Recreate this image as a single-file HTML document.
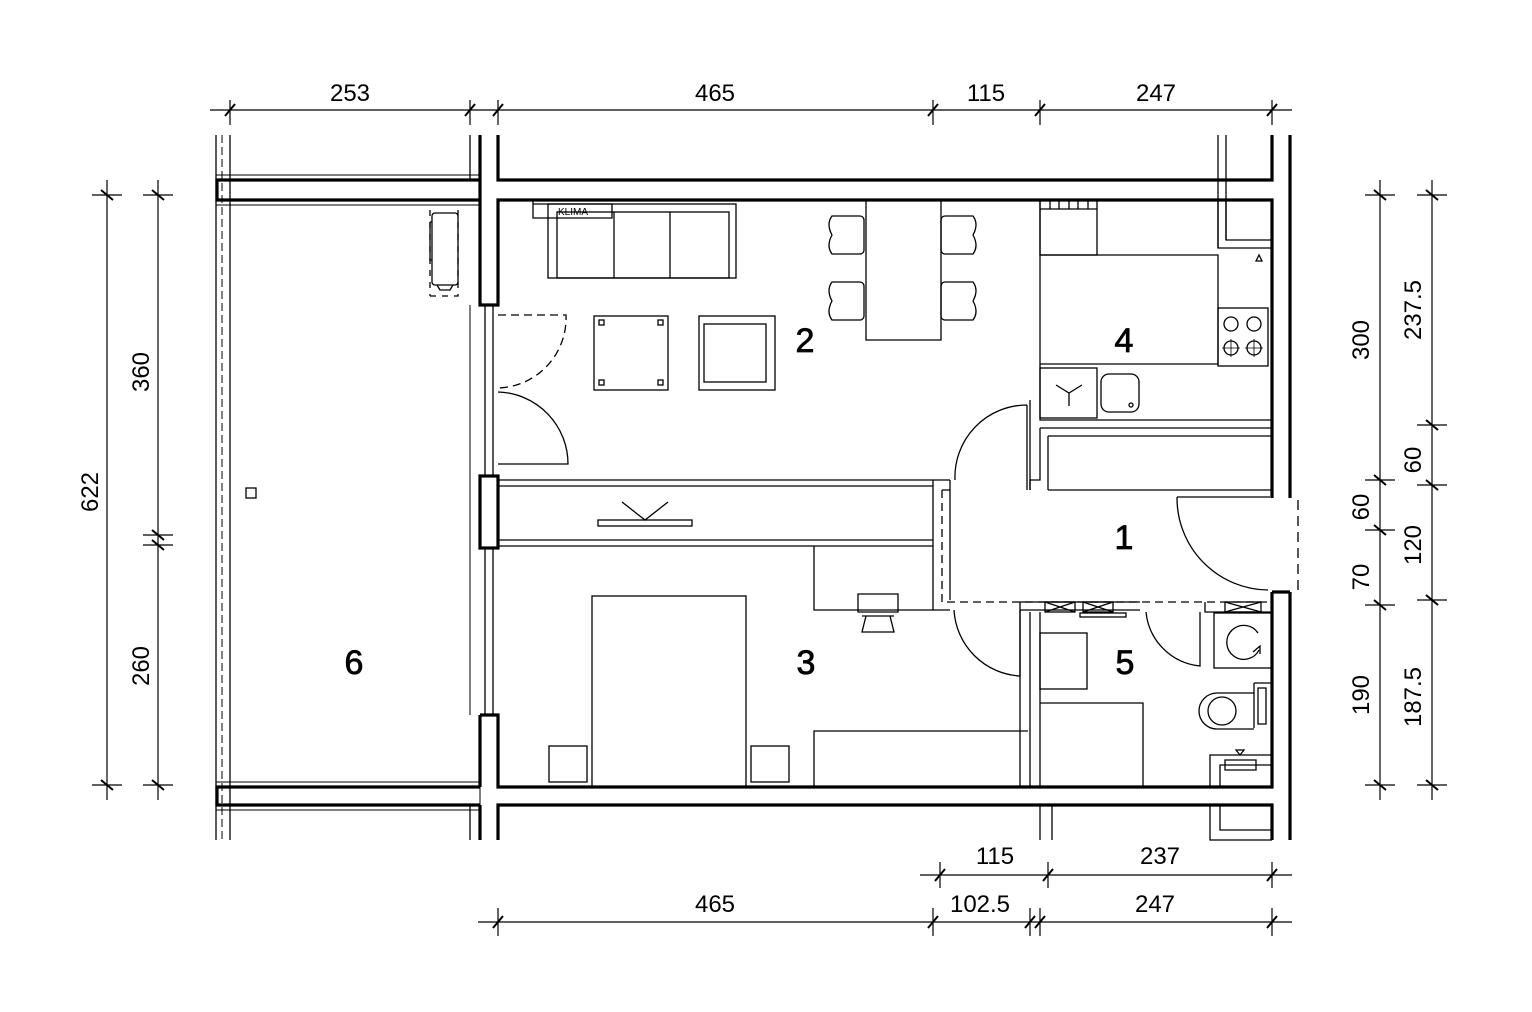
<!DOCTYPE html>
<html><head><meta charset="utf-8"><style>html,body{margin:0;padding:0;background:#fff}svg{display:block}</style></head><body>
<svg width="1532" height="1012" viewBox="0 0 1532 1012" xmlns="http://www.w3.org/2000/svg" font-family="Liberation Sans, sans-serif">
<g stroke="#000" fill="none" stroke-width="1.3">
<line x1="216" y1="135" x2="216" y2="840"/><line x1="230" y1="135" x2="230" y2="840"/>
<line x1="222" y1="135" x2="222" y2="840" stroke-dasharray="8,4" stroke-width="1"/>
<line x1="470" y1="135" x2="470" y2="180"/><line x1="470" y1="805" x2="470" y2="840"/>
<line x1="470" y1="305" x2="470" y2="715" stroke-width="1"/>
<rect x="216" y="175" width="264" height="30" stroke-width="1"/>
<rect x="216" y="782" width="264" height="28" stroke-width="1"/>
</g>
<g stroke="#000" fill="none" stroke-width="3.2">
<path d="M480 180 H217 V200 H480"/>
<path d="M480 787 H217 V805 H480"/>
<path d="M480 135 V305 H498 V200 H1272 V498"/>
<path d="M498 135 V180 H1272 V135"/>
<path d="M1290 135 V498"/>
<rect x="480" y="476" width="18" height="72"/>
<path d="M480 840 V805 M498 840 V805 H1272 V840"/>
<path d="M480 715 H498 V787 H1272 V592"/>
<path d="M480 715 V787"/>
<path d="M1290 592 V840"/>
<path d="M1272 592 H1290"/>
</g>
<g stroke="#000" fill="none" stroke-width="1.3">
<line x1="485" y1="305" x2="485" y2="476"/><line x1="493" y1="305" x2="493" y2="476"/>
<line x1="485" y1="548" x2="485" y2="715"/><line x1="493" y1="548" x2="493" y2="715"/>
<line x1="1218" y1="135" x2="1218" y2="248"/><line x1="1226" y1="135" x2="1226" y2="240"/>
<path d="M1226 200 V240 H1272 M1218 200 V248 H1272"/>
<line x1="498" y1="480" x2="933" y2="480"/><line x1="498" y1="486" x2="933" y2="486"/>
<line x1="498" y1="540" x2="933" y2="540"/><line x1="498" y1="546" x2="933" y2="546"/>
<path d="M933 480 V610 H950 M950 480 V600"/>
<path d="M933 480 H950"/>
<rect x="598" y="520" width="94" height="6"/><path d="M622 502 L645 520 L668 502"/>
<path d="M1040 200 V420 H1272"/>
<path d="M1040 428 H1272"/>
<path d="M1040 428 V480 H1030 V490"/>
<path d="M1048 436 H1272 M1048 436 V490"/>
<path d="M1048 490 H1272"/>
<path d="M1030 400 V490"/>
<path d="M942 490 H950 M942 490 V602 H1272" stroke-dasharray="8,5"/>
<path d="M1020 602 V787 M1030 612 V787 M1040 612 V787"/>
<path d="M1020 602 H1140 M1020 610 H1140 M1205 602 V612 H1272"/>
<path d="M498 315 H566 A70 70 0 0 1 498 388" stroke-dasharray="8,5"/>
<path d="M498 392 A72 72 0 0 1 568 464 H498"/>
<path d="M1027 405 V490 M1027 405 A72 72 0 0 0 955 480"/>
<path d="M1177 497 H1270 M1177 497 A92 92 0 0 0 1268 590"/>
<path d="M954 610 A70 70 0 0 0 1020 676 V610"/>
<path d="M1146 612 A60 60 0 0 0 1200 666 V612"/>
<line x1="1298" y1="500" x2="1298" y2="590" stroke-dasharray="10,6"/>
<rect x="1045" y="602" width="30" height="10"/><path d="M1045 602 L1075 612 M1075 602 L1045 612"/>
<rect x="1083" y="602" width="30" height="10"/><path d="M1083 602 L1113 612 M1113 602 L1083 612"/>
<rect x="1225" y="602" width="36" height="10"/><path d="M1225 602 L1261 612 M1261 602 L1225 612"/>
<rect x="1080" y="613" width="46" height="4"/>
<path d="M533 200 V218 H612 V204 H533"/><text x="558" y="215" font-size="10" stroke="none" fill="#000">KLIMA</text>
<rect x="548" y="204" width="188" height="74"/><rect x="557" y="212" width="172" height="66"/>
<line x1="614" y1="212" x2="614" y2="278"/><line x1="670" y1="212" x2="670" y2="278"/>
<rect x="594" y="316" width="74" height="74"/>
<g fill="none"><rect x="599" y="320" width="5" height="5"/><rect x="658" y="320" width="5" height="5"/><rect x="599" y="380" width="5" height="5"/><rect x="658" y="380" width="5" height="5"/></g>
<rect x="699" y="316" width="76" height="74"/><rect x="704" y="324" width="62" height="58"/>
<path d="M866 200 V340 H941 V200"/>
<g id="ch"><path d="M832 216 H860 A4 4 0 0 1 864 220 V250 A4 4 0 0 1 860 254 H832 Q826 246 832 235 Q826 224 832 216 Z"/></g>
<use href="#ch" y="66"/>
<g transform="translate(1805 0) scale(-1 1)"><use href="#ch"/><use href="#ch" y="66"/></g>
<rect x="1040" y="200" width="57" height="55"/><path d="M1040 209 H1097 M1050 200 V209 M1059 200 V209 M1069 200 V209 M1078 200 V209 M1088 200 V209"/>
<path d="M1040 255 H1218 V364 H1040"/>
<rect x="1218" y="308" width="50" height="58"/>
<circle cx="1231" cy="324" r="7"/><circle cx="1254" cy="324" r="7"/>
<circle cx="1231" cy="348" r="7"/><circle cx="1254" cy="348" r="7"/>
<path d="M1222 348 H1240 M1231 339 V357 M1245 348 H1263 M1254 339 V357" stroke-width="0.8"/>
<rect x="1040" y="368" width="57" height="50"/><path d="M1056 385 L1069 393 L1082 385 M1069 393 V406"/>
<rect x="1101" y="374" width="38" height="38" rx="8"/><circle cx="1131" cy="405" r="2"/>
<path d="M1256 261 L1259 255 L1262 261 Z"/>
<rect x="592" y="596" width="154" height="191"/>
<rect x="549" y="746" width="38" height="36"/><rect x="751" y="746" width="38" height="36"/>
<path d="M814 546 V610 H933"/>
<path d="M858 594 H898 V612 H858 Z M862 616 H894 M866 616 L862 632 H894 L890 616"/>
<path d="M814 787 V731 H1028"/>
<rect x="1040" y="633" width="47" height="56"/>
<path d="M1040 703 H1143 V787"/>
<rect x="1214" y="613" width="58" height="55"/>
<path d="M1258 633 A17 17 0 1 0 1259 650 M1253 652 L1260 646 L1260 654"/>
<path d="M1254 683 H1272 V760 M1254 683 V728 M1258 688 H1266 V724 H1258 Z"/>
<path d="M1254 693 H1217 A18 18 0 0 0 1217 729 H1254"/><circle cx="1222" cy="711" r="14"/>
<path d="M1210 787 V755 H1272 M1220 787 V765 H1272 M1225 760 H1256 V770 H1225 Z"/>
<path d="M1236 750 L1240 755 L1244 750 Z"/>
<path d="M1210 805 V840 H1272 M1220 805 V830 H1272"/>
<path d="M1040 805 V840 M1052 805 V840"/>
<rect x="432" y="213" width="26" height="72" rx="3"/><path d="M430 222 H432 M430 222 V260 H432"/><path d="M437 285 L440 290 H450 L453 285"/>
<path d="M430 210 V296 M430 296 H458 V210" stroke-dasharray="6,6"/>
<rect x="246" y="488" width="10" height="10"/>
</g>
<g stroke="#000" stroke-width="1.2" fill="none">
<line x1="210" y1="110" x2="1292" y2="110"/>
<line x1="230" y1="100" x2="230" y2="125"/><line x1="470" y1="100" x2="470" y2="125"/><line x1="498" y1="100" x2="498" y2="125"/><line x1="933" y1="100" x2="933" y2="125"/><line x1="1040" y1="100" x2="1040" y2="125"/><line x1="1272" y1="100" x2="1272" y2="125"/>
<line x1="92" y1="195" x2="122" y2="195"/><line x1="92" y1="785" x2="122" y2="785"/><line x1="107" y1="180" x2="107" y2="800"/>
<line x1="158" y1="180" x2="158" y2="800"/><line x1="143" y1="195" x2="173" y2="195"/><line x1="143" y1="535" x2="173" y2="535"/><line x1="143" y1="545" x2="173" y2="545"/><line x1="143" y1="785" x2="173" y2="785"/>
<line x1="1380" y1="180" x2="1380" y2="800"/><line x1="1365" y1="195" x2="1395" y2="195"/><line x1="1365" y1="480" x2="1395" y2="480"/><line x1="1365" y1="530" x2="1395" y2="530"/><line x1="1365" y1="605" x2="1395" y2="605"/><line x1="1365" y1="785" x2="1395" y2="785"/>
<line x1="1432" y1="180" x2="1432" y2="800"/><line x1="1417" y1="195" x2="1447" y2="195"/><line x1="1417" y1="425" x2="1447" y2="425"/><line x1="1417" y1="485" x2="1447" y2="485"/><line x1="1417" y1="600" x2="1447" y2="600"/><line x1="1417" y1="785" x2="1447" y2="785"/>
<line x1="920" y1="875" x2="1292" y2="875"/><line x1="940" y1="862" x2="940" y2="888"/><line x1="1048" y1="862" x2="1048" y2="888"/><line x1="1272" y1="862" x2="1272" y2="888"/>
<line x1="478" y1="922" x2="1292" y2="922"/><line x1="498" y1="908" x2="498" y2="936"/><line x1="933" y1="908" x2="933" y2="936"/><line x1="1030" y1="908" x2="1030" y2="936"/><line x1="1040" y1="908" x2="1040" y2="936"/><line x1="1272" y1="908" x2="1272" y2="936"/>
</g>
<g stroke="#000" stroke-width="2">
<path d="M225 116 L235 104 M465 116 L475 104 M493 116 L503 104 M928 116 L938 104 M1035 116 L1045 104 M1267 116 L1277 104"/>
<path d="M101 190 L113 200 M101 780 L113 790 M152 190 L164 200 M152 530 L164 540 M152 540 L164 550 M152 780 L164 790"/>
<path d="M1374 190 L1386 200 M1374 475 L1386 485 M1374 525 L1386 535 M1374 600 L1386 610 M1374 780 L1386 790"/>
<path d="M1426 190 L1438 200 M1426 420 L1438 430 M1426 480 L1438 490 M1426 595 L1438 605 M1426 780 L1438 790"/>
<path d="M935 881 L945 869 M1043 881 L1053 869 M1267 881 L1277 869"/>
<path d="M493 928 L503 916 M928 928 L938 916 M1025 928 L1035 916 M1035 928 L1045 916 M1267 928 L1277 916"/>
</g>
<g font-size="24" fill="#000" text-anchor="middle">
<text x="350" y="101">253</text><text x="715" y="101">465</text><text x="986" y="101">115</text><text x="1156" y="101">247</text>
<text x="995" y="864">115</text><text x="1160" y="864">237</text>
<text x="715" y="912">465</text><text x="980" y="912">102.5</text><text x="1155" y="912">247</text>
<text transform="translate(98 492) rotate(-90)">622</text>
<text transform="translate(149 372) rotate(-90)">360</text>
<text transform="translate(149 666) rotate(-90)">260</text>
<text transform="translate(1369 340) rotate(-90)">300</text>
<text transform="translate(1369 507) rotate(-90)">60</text>
<text transform="translate(1369 577) rotate(-90)">70</text>
<text transform="translate(1369 695) rotate(-90)">190</text>
<text transform="translate(1421 310) rotate(-90)">237.5</text>
<text transform="translate(1421 460) rotate(-90)">60</text>
<text transform="translate(1421 545) rotate(-90)">120</text>
<text transform="translate(1421 697) rotate(-90)">187.5</text>
</g>
<g font-size="34" fill="#000" text-anchor="middle" stroke="#000" stroke-width="0.8">
<text x="805" y="352">2</text><text x="1124" y="352">4</text><text x="1124" y="549">1</text>
<text x="806" y="674">3</text><text x="1125" y="674">5</text><text x="354" y="674">6</text>
</g>
</svg>
</body></html>
